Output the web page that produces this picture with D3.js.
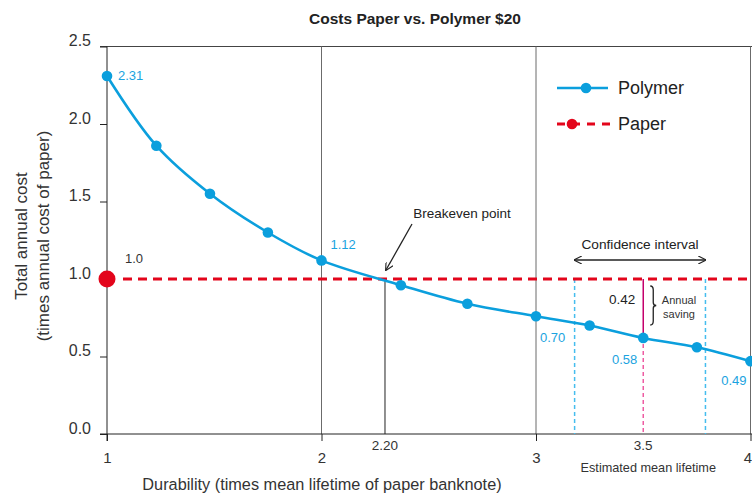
<!DOCTYPE html>
<html><head><meta charset="utf-8">
<script src="https://cdn.jsdelivr.net/npm/d3@7"></script>
<style>body{margin:0;background:#fff}svg{display:block;font-family:"Liberation Sans",Arial,sans-serif}</style>
</head><body><svg id="c" width="752" height="493"></svg>
<script>
// ---- data ----
const durability = [1.0, 1.23, 1.48, 1.75, 2.0, 2.37, 2.68, 3.0, 3.25, 3.5, 3.75, 4.0];
const polymerCost = [2.31, 1.86, 1.55, 1.30, 1.12, 0.96, 0.84, 0.76, 0.70, 0.62, 0.56, 0.47];
const paperCost = 1.0;
const valueLabels = [
  {x: 1.0, y: 2.31, text: "2.31", dx: 11, dy: 0, anchor: "start"},
  {x: 2.0, y: 1.12, text: "1.12", dx: 9, dy: -15, anchor: "start"},
  {x: 3.0, y: 0.76, text: "0.70", dx: 4, dy: 22, anchor: "start"},
  {x: 3.5, y: 0.62, text: "0.58", dx: -6, dy: 22, anchor: "end"},
  {x: 4.0, y: 0.47, text: "0.49", dx: -4, dy: 20, anchor: "end"}
];
const xTicks = [1, 2, 3, 4];
const yTicks = [0, 0.5, 1.0, 1.5, 2.0, 2.5];
const breakevenX = 2.296, breakevenLabel = "2.20";
const meanLifeX = 3.5, meanLifeLabel = "3.5";
const ciLow = 3.18, ciHigh = 3.79;
const savingLabel = "0.42";

// ---- layout ----
const svg = d3.select("#c");
const x = d3.scaleLinear().domain([1, 4]).range([107, 750.5]);
const y = d3.scaleLinear().domain([0, 2.5]).range([434, 46.5]);
const blue = "#0b9fdd", red = "#e3051b", magenta = "#c4006c", pink = "#ee5ca2", lightBlue = "#45bdee";
const pts = durability.map((d, i) => ({x: d, y: polymerCost[i]}));

// title
svg.append("text").attr("x", 415).attr("y", 24).attr("text-anchor", "middle")
  .attr("font-size", 15.5).attr("font-weight", "bold").attr("fill", "#222")
  .text("Costs Paper vs. Polymer $20");

// top border
svg.append("line").attr("x1", 100).attr("x2", 752).attr("y1", y(2.5)).attr("y2", y(2.5))
  .attr("stroke", "#444").attr("stroke-width", 1);

// vertical grid lines
svg.selectAll("line.grid").data(xTicks.slice(1)).enter().append("line")
  .attr("x1", d => x(d)).attr("x2", d => x(d)).attr("y1", y(2.5)).attr("y2", y(0))
  .attr("stroke", "#6b6b6b").attr("stroke-width", 1);

// y axis
const yAxis = d3.axisLeft(y).tickValues(yTicks).tickFormat(d3.format(".1f")).tickSize(7).tickPadding(9);
const gy = svg.append("g").attr("transform", `translate(${x(1)},0)`).call(yAxis);
gy.select(".domain").remove();
gy.append("line").attr("x1", 0).attr("x2", 0).attr("y1", y(2.5)).attr("y2", y(0) + 7).attr("stroke", "#222");
gy.selectAll(".tick line").attr("stroke", "#222");
gy.selectAll(".tick text").attr("font-size", 16).attr("fill", "#333").attr("dy", "-0.05em")
  .attr("font-family", "Liberation Sans, Arial, sans-serif");

// x axis
const xAxis = d3.axisBottom(x).tickValues(xTicks).tickFormat(d3.format("d")).tickSize(7).tickPadding(11);
const gx = svg.append("g").attr("transform", `translate(0,${y(0)})`).call(xAxis);
gx.select(".domain").remove();
gx.append("line").attr("x1", 100).attr("x2", 752).attr("y1", 0).attr("y2", 0).attr("stroke", "#222");
gx.selectAll(".tick line").attr("stroke", "#222");
gx.selectAll(".tick text").attr("font-size", 15).attr("fill", "#333")
  .attr("font-family", "Liberation Sans, Arial, sans-serif")
  .attr("dx", d => d === 4 ? -3 : 0);

// axis titles
svg.append("text").attr("transform", "translate(27,236) rotate(-90)").attr("text-anchor", "middle")
  .attr("font-size", 17).attr("fill", "#333").text("Total annual cost");
svg.append("text").attr("transform", "translate(49,236) rotate(-90)").attr("text-anchor", "middle")
  .attr("font-size", 17).attr("fill", "#333").text("(times annual cost of paper)");
svg.append("text").attr("x", 322).attr("y", 490).attr("text-anchor", "middle")
  .attr("font-size", 16.3).attr("fill", "#333").text("Durability (times mean lifetime of paper banknote)");

// breakeven vertical line
svg.append("line").attr("x1", x(breakevenX)).attr("x2", x(breakevenX)).attr("y1", y(paperCost)).attr("y2", y(0))
  .attr("stroke", "#222").attr("stroke-width", 1);
svg.append("text").attr("x", x(breakevenX)).attr("y", 450).attr("text-anchor", "middle")
  .attr("font-size", 13.5).attr("fill", "#333").text(breakevenLabel);

// confidence interval dashed lines
svg.selectAll("line.ci").data([ciLow, ciHigh]).enter().append("line")
  .attr("x1", d => x(d)).attr("x2", d => x(d)).attr("y1", y(paperCost)).attr("y2", y(0))
  .attr("stroke", lightBlue).attr("stroke-width", 1.5).attr("stroke-dasharray", "4,3");

// mean lifetime lines
const meanIdx = durability.indexOf(meanLifeX);
svg.append("line").attr("x1", x(meanLifeX)).attr("x2", x(meanLifeX)).attr("y1", y(paperCost)).attr("y2", y(polymerCost[meanIdx]))
  .attr("stroke", magenta).attr("stroke-width", 1.5);
svg.append("line").attr("x1", x(meanLifeX)).attr("x2", x(meanLifeX)).attr("y1", y(polymerCost[meanIdx]) + 6).attr("y2", y(0))
  .attr("stroke", pink).attr("stroke-width", 1.5).attr("stroke-dasharray", "4,3");
svg.append("text").attr("x", x(meanLifeX)).attr("y", 449.5).attr("text-anchor", "middle")
  .attr("font-size", 13.5).attr("fill", "#333").text(meanLifeLabel);
svg.append("text").attr("x", x(meanLifeX) + 5).attr("y", 472).attr("text-anchor", "middle")
  .attr("font-size", 12.7).attr("fill", "#333").text("Estimated mean lifetime");

// paper line
svg.append("line").attr("x1", x(1) + 16).attr("x2", 752).attr("y1", y(paperCost)).attr("y2", y(paperCost))
  .attr("stroke", red).attr("stroke-width", 3).attr("stroke-dasharray", "9,6");
svg.append("circle").attr("cx", x(1)).attr("cy", y(paperCost)).attr("r", 8.5).attr("fill", red);
svg.append("text").attr("x", x(1) + 18).attr("y", y(paperCost) - 16).attr("font-size", 13).attr("fill", "#333").text("1.0");

// polymer line
const line = d3.line().x(d => x(d.x)).y(d => y(d.y)).curve(d3.curveCatmullRom.alpha(0.5));
svg.append("path").datum(pts).attr("d", line).attr("fill", "none").attr("stroke", blue).attr("stroke-width", 2.6);
svg.selectAll("circle.p").data(pts).enter().append("circle")
  .attr("cx", d => x(d.x)).attr("cy", d => y(d.y)).attr("r", 5.3).attr("fill", blue);
svg.selectAll("text.v").data(valueLabels).enter().append("text")
  .attr("x", d => x(d.x) + d.dx).attr("y", d => y(d.y) + d.dy + 4).attr("text-anchor", d => d.anchor)
  .attr("font-size", 13).attr("fill", "#1aa3e0").text(d => d.text);

// breakeven annotation
svg.append("defs").append("marker").attr("id", "ah").attr("viewBox", "0 0 10 10").attr("refX", 9).attr("refY", 5)
  .attr("markerWidth", 8).attr("markerHeight", 8).attr("orient", "auto-start-reverse").attr("markerUnits", "userSpaceOnUse")
  .append("path").attr("d", "M0,0 L10,5 L0,10").attr("fill", "none").attr("stroke", "#222").attr("stroke-width", 1.4);
svg.append("text").attr("x", 462).attr("y", 218).attr("text-anchor", "middle").attr("font-size", 13.5).attr("fill", "#222").text("Breakeven point");
svg.append("line").attr("x1", 412).attr("y1", 224).attr("x2", x(breakevenX) + 1).attr("y2", y(paperCost) - 9)
  .attr("stroke", "#222").attr("stroke-width", 1.3).attr("marker-end", "url(#ah)");

// confidence interval annotation
svg.append("text").attr("x", (x(ciLow) + x(ciHigh)) / 2).attr("y", 249).attr("text-anchor", "middle")
  .attr("font-size", 13.7).attr("fill", "#222").text("Confidence interval");
svg.append("line").attr("x1", x(ciLow)).attr("x2", x(ciHigh)).attr("y1", 260).attr("y2", 260)
  .attr("stroke", "#222").attr("stroke-width", 1.3).attr("marker-start", "url(#ah)").attr("marker-end", "url(#ah)");

// annual saving annotation
svg.append("text").attr("x", x(meanLifeX) - 8).attr("y", 304).attr("text-anchor", "end")
  .attr("font-size", 13.5).attr("fill", "#222").text(savingLabel);
const bx = x(meanLifeX) + 7, by0 = 286, by1 = 325, bm = (by0 + by1) / 2;
svg.append("path").attr("d", `M${bx},${by0} Q${bx+3},${by0} ${bx+3},${by0+4} L${bx+3},${bm-3} Q${bx+3},${bm} ${bx+6},${bm} Q${bx+3},${bm} ${bx+3},${bm+3} L${bx+3},${by1-4} Q${bx+3},${by1} ${bx},${by1}`)
  .attr("fill", "none").attr("stroke", "#222").attr("stroke-width", 1.3);
svg.append("text").attr("x", 679).attr("y", 304).attr("text-anchor", "middle").attr("font-size", 11).attr("fill", "#333").text("Annual");
svg.append("text").attr("x", 679).attr("y", 318).attr("text-anchor", "middle").attr("font-size", 11).attr("fill", "#333").text("saving");

// legend
const lg = svg.append("g");
lg.append("line").attr("x1", 557).attr("x2", 608).attr("y1", 88).attr("y2", 88).attr("stroke", blue).attr("stroke-width", 2.6);
lg.append("circle").attr("cx", 586).attr("cy", 88).attr("r", 5.3).attr("fill", blue);
lg.append("text").attr("x", 618).attr("y", 94).attr("font-size", 18).attr("fill", "#222").text("Polymer");
lg.append("line").attr("x1", 557).attr("x2", 610).attr("y1", 124).attr("y2", 124).attr("stroke", red).attr("stroke-width", 3).attr("stroke-dasharray", "8,7");
lg.append("circle").attr("cx", 572).attr("cy", 124).attr("r", 5.3).attr("fill", red);
lg.append("text").attr("x", 618).attr("y", 130).attr("font-size", 18).attr("fill", "#222").text("Paper");
</script></body></html>
